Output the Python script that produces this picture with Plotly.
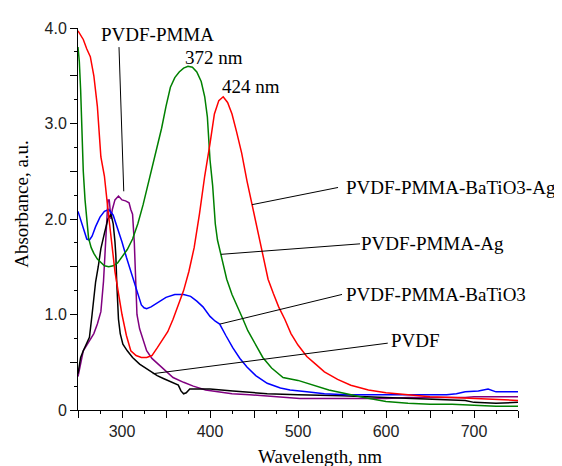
import plotly.graph_objects as go

# ---------------- data ----------------
wl_batio3_ag = [250, 253, 256, 260, 264, 268, 272, 276, 280, 284, 288, 292, 296, 300, 305, 310, 316, 322, 328,
                334, 340, 346, 352, 358, 364, 370, 376, 382, 388, 394, 400, 405, 410, 415, 420, 425, 430, 436,
                442, 448, 455, 460, 466, 472, 478, 485, 492, 500, 510, 520, 530, 545, 560, 580, 600, 625, 650,
                675, 700, 725, 750]
abs_batio3_ag = [3.97, 3.93, 3.88, 3.78, 3.70, 3.50, 3.18, 2.65, 2.45, 2.10, 1.75, 1.45, 1.22, 1.00, 0.78, 0.62,
                 0.57, 0.55, 0.55, 0.57, 0.65, 0.74, 0.82, 0.95, 1.10, 1.25, 1.45, 1.70, 2.05, 2.45, 2.79, 3.10,
                 3.24, 3.28, 3.22, 3.10, 2.92, 2.69, 2.40, 2.15, 1.83, 1.65, 1.37, 1.22, 1.08, 0.95, 0.80, 0.68,
                 0.56, 0.48, 0.40, 0.32, 0.26, 0.21, 0.18, 0.16, 0.14, 0.13, 0.12, 0.11, 0.10]

wl_ag = [250, 251.5, 253, 254.5, 256, 258, 260, 262, 265, 268, 272, 276, 280, 285, 290, 295, 300, 306, 312, 318,
         324, 330, 336, 340, 345, 350, 355, 360, 365, 370, 375, 380, 385, 390, 394, 397, 400, 403, 406, 408.5,
         412.5, 419, 425, 431, 437, 443, 450, 460, 470, 483, 500, 517, 535, 555, 575, 600, 625, 650, 675, 700,
         725, 750]
abs_ag = [3.80, 3.65, 3.35, 2.90, 2.50, 2.20, 1.96, 1.80, 1.70, 1.64, 1.58, 1.54, 1.51, 1.50, 1.51, 1.54, 1.60,
          1.68, 1.79, 1.95, 2.15, 2.38, 2.62, 2.75, 2.95, 3.18, 3.38, 3.48, 3.54, 3.58, 3.60, 3.59, 3.54, 3.44,
          3.28, 3.07, 2.62, 2.35, 1.95, 1.78, 1.63, 1.37, 1.21, 1.09, 0.96, 0.83, 0.72, 0.55, 0.44, 0.34, 0.31,
          0.26, 0.21, 0.17, 0.13, 0.09, 0.07, 0.06, 0.06, 0.05, 0.04, 0.04]

wl_batio3 = [250, 253, 256, 260, 263, 266, 270, 275, 280, 285, 290, 294, 300, 305, 310, 315, 319, 322, 325, 328,
             333, 340, 350, 360, 370, 378, 385, 392, 400, 406, 411, 418, 426, 434, 442, 452, 465, 480, 491, 510,
             530, 555, 580, 600, 631, 650, 669, 680, 690, 705, 716, 725, 750]
abs_batio3 = [2.08, 2.00, 1.90, 1.79, 1.78, 1.82, 1.92, 2.02, 2.08, 2.10, 2.04, 1.93, 1.76, 1.60, 1.45, 1.30,
              1.18, 1.10, 1.07, 1.06, 1.08, 1.12, 1.18, 1.21, 1.21, 1.19, 1.14, 1.08, 0.98, 0.93, 0.90, 0.78,
              0.65, 0.54, 0.45, 0.36, 0.28, 0.23, 0.21, 0.19, 0.17, 0.16, 0.16, 0.16, 0.16, 0.16, 0.16, 0.17,
              0.19, 0.20, 0.22, 0.19, 0.19]

wl_pvdf = [250, 253, 256, 260, 263, 266, 268, 270, 273, 276, 280, 284, 287.5, 290, 292, 293, 294, 295, 296, 298,
           301, 306, 312, 320, 332, 340, 347, 358, 364, 367, 370, 373, 377, 385, 400, 426, 465, 500, 550, 600,
           640, 669, 690, 700, 725, 750]
abs_pvdf = [0.38, 0.55, 0.62, 0.70, 0.76, 1.00, 1.20, 1.34, 1.50, 1.69, 1.85, 2.00, 2.05, 1.95, 1.76, 1.62,
            1.34, 1.15, 0.95, 0.80, 0.69, 0.62, 0.55, 0.48, 0.41, 0.36, 0.33, 0.29, 0.26, 0.20, 0.17, 0.18,
            0.22, 0.22, 0.22, 0.20, 0.17, 0.16, 0.15, 0.13, 0.12, 0.11, 0.10, 0.08, 0.07, 0.08]

wl_pmma = [250, 253, 256, 260, 264, 268, 272, 276, 279, 281, 282.5, 284, 285.5, 287.5, 289, 292, 296, 300, 304,
           308, 310, 312, 314, 315.5, 317, 320, 328, 334, 340, 350, 358, 370, 381, 395, 408, 425, 445, 470, 502,
           550, 600, 625, 650, 690, 700, 750]
abs_pmma = [0.35, 0.50, 0.62, 0.68, 0.74, 0.80, 0.90, 1.03, 1.35, 1.65, 2.00, 2.20, 2.20, 2.00, 2.10, 2.20,
            2.24, 2.20, 2.19, 2.17, 2.10, 2.05, 1.75, 1.40, 1.00, 0.85, 0.62, 0.54, 0.49, 0.40, 0.34, 0.29,
            0.25, 0.21, 0.19, 0.17, 0.16, 0.14, 0.12, 0.12, 0.12, 0.13, 0.13, 0.13, 0.14, 0.14]

series_names = ["PVDF-PMMA-BaTiO3-Ag", "PVDF-PMMA-Ag", "PVDF-PMMA-BaTiO3", "PVDF", "PVDF-PMMA"]
series_colors = ["#ff0000", "#008000", "#0000ff", "#000000", "#800080"]

x_tick_vals = [250, 300, 350, 400, 450, 500, 550, 600, 650, 700, 750]
x_tick_text = ["", "300", "", "400", "", "500", "", "600", "", "700", ""]
y_tick_vals = [0, 0.5, 1, 1.5, 2, 2.5, 3, 3.5, 4]
y_tick_text = ["0", "", "1.0", "", "2.0", "", "3.0", "", "4.0"]

# ---------------- figure ----------------
fig = go.Figure()
data = [(wl_pmma, abs_pmma, 4), (wl_pvdf, abs_pvdf, 3), (wl_batio3, abs_batio3, 2),
        (wl_ag, abs_ag, 1), (wl_batio3_ag, abs_batio3_ag, 0)]
for xs, ys, i in data:
    fig.add_trace(go.Scatter(x=xs, y=ys, mode="lines", name=series_names[i],
                             line=dict(color=series_colors[i], width=1.5), showlegend=False))

serif = "Liberation Serif, Times New Roman, serif"
sans = "Liberation Sans, Arial, sans-serif"

# labels: (text, x, y, xanchor)
labels = [
    ("PVDF-PMMA", 339.8, 3.93, "center"),
    ("372 nm", 404, 3.69, "center"),
    ("424 nm", 447, 3.39, "center"),
    ("PVDF-PMMA-BaTiO3-Ag", 554, 2.33, "left"),
    ("PVDF-PMMA-Ag", 572, 1.74, "left"),
    ("PVDF-PMMA-BaTiO3", 555, 1.21, "left"),
    ("PVDF", 606, 0.73, "left"),
]
for t, x, y, xa in labels:
    fig.add_annotation(text=t, x=x, y=y, xref="x", yref="y", xanchor=xa, yanchor="middle",
                       showarrow=False, borderpad=0, borderwidth=0,
                       font=dict(family=serif, size=19, color="black"))

# leader lines: (x0, y0, x1, y1)
leaders = [
    (296.6, 3.80, 302.0, 2.29),
    (447.7, 2.15, 545.5, 2.33),
    (412.5, 1.63, 570.5, 1.74),
    (411.4, 0.90, 550.0, 1.21),
    (335.0, 0.38, 602.0, 0.70),
]
for x0, y0, x1, y1 in leaders:
    fig.add_shape(type="line", x0=x0, y0=y0, x1=x1, y1=y1, xref="x", yref="y",
                  line=dict(color="black", width=1))

fig.add_annotation(text="Wavelength, nm", x=0.55, y=-0.122, xref="paper", yref="paper",
                   xanchor="center", yanchor="middle", showarrow=False,
                   font=dict(family=serif, size=19, color="black"))
fig.add_annotation(text="Absorbance, a.u.", x=-0.127, y=0.54, xref="paper", yref="paper",
                   xanchor="center", yanchor="middle", showarrow=False, textangle=-90,
                   font=dict(family=serif, size=19, color="black"))

fig.update_xaxes(range=[250, 750], showgrid=False, zeroline=False, showline=True, linecolor="black",
                 linewidth=1, ticks="outside", ticklen=7, tickcolor="black", tickwidth=1,
                 tickmode="array", tickvals=x_tick_vals, ticktext=x_tick_text,
                 tickfont=dict(family=sans, size=16, color="#222"),
                 minor=dict(dtick=25, ticks="outside", ticklen=3, tickcolor="black", tickwidth=1, showgrid=False))
fig.update_yaxes(range=[0, 4], showgrid=False, zeroline=False, showline=True, linecolor="black",
                 linewidth=1, ticks="outside", ticklen=7, tickcolor="black", tickwidth=1,
                 tickmode="array", tickvals=y_tick_vals, ticktext=y_tick_text,
                 tickfont=dict(family=sans, size=16, color="#222"),
                 minor=dict(dtick=0.25, ticks="outside", ticklen=3, tickcolor="black", tickwidth=1, showgrid=False))

# the page body has an 8px margin; size the figure so the plot area lands at x 78-518, y 23-410
fig.update_layout(width=554, height=458, margin=dict(l=70, r=44, t=15, b=56),
                  paper_bgcolor="white", plot_bgcolor="white")

fig.write_html("out.html")
